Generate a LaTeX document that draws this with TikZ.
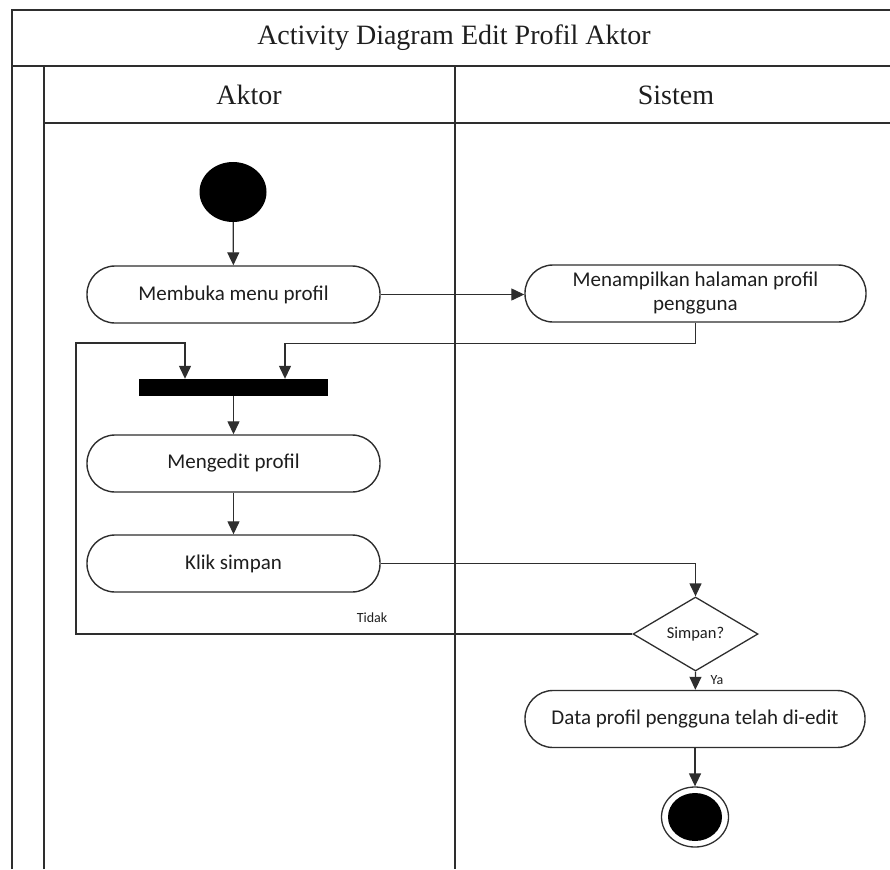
\documentclass[tikz,border=0pt]{standalone}
\usepackage{fontspec}
\setmainfont{Liberation Serif}
\newfontfamily\boxfont{Carlito}
\usetikzlibrary{calc, arrows.meta, shapes.geometric}
\definecolor{lineColor}{HTML}{2E2E2E}
\definecolor{textColor}{HTML}{1E1E1E}

\begin{document}
\begin{tikzpicture}[x=1pt, y=-1pt,
    lane/.style={draw=lineColor, line width=2pt},
    head/.style={text=textColor, font=\fontsize{28}{32}\selectfont},
    act/.style={draw=lineColor, line width=1.4pt, rounded corners=28pt, fill=white,
        minimum width=293pt, minimum height=57pt, align=center, text=textColor,
        font=\boxfont\fontsize{21}{24}\selectfont},
    flow/.style={draw=lineColor, line width=1.3pt, -{Triangle[length=13pt, width=12pt]}},
    note/.style={text=textColor, inner sep=0pt, font=\boxfont\fontsize{14}{16}\selectfont}]
    \useasboundingbox (0,0) rectangle (890,869);

    \draw[lane] (12,869) -- (12,10) -- (890,10);
    \draw[lane] (12,66) -- (890,66);
    \draw[lane] (44,869) -- (44,66);
    \draw[lane] (44,123) -- (890,123);
    \draw[lane] (455,66) -- (455,869);
    \node[head] (judul) at (454,38) {Activity Diagram Edit Profil Aktor};
    \node[head] (aktor) at (249,95) {Aktor};
    \node[head] (sistem) at (676,95) {Sistem};

    \node[ellipse, fill=black, minimum width=67pt, minimum height=60pt, inner sep=0pt] (mulai) at (233,192) {};
    \node[act] (buka) at (233.5,294.5) {Membuka menu profil};
    \node[act, minimum width=341pt] (tampil) at (695.5,293.5) {Menampilkan halaman profil\\pengguna};
    \node[fill=black, minimum width=189pt, minimum height=17pt, inner sep=0pt] (fork) at (233.5,387.5) {};
    \node[act] (edit) at (233.5,463.5) {Mengedit profil};
    \node[act] (simpan) at (233.5,563.5) {Klik simpan};
    \node[diamond, draw=lineColor, line width=1.3pt, minimum width=125pt, minimum height=74pt,
        inner sep=0pt, text=textColor, font=\boxfont\fontsize{16.5}{19}\selectfont] (cek) at (695.5,634) {Simpan?};
    \node[act, minimum width=340pt] (hasil) at (695,719) {Data profil pengguna telah di-edit};
    \node[ellipse, draw=lineColor, line width=1.3pt, minimum width=67pt, minimum height=60pt, inner sep=0pt] (selesai) at (695,817) {};
    \node[ellipse, fill=black, minimum width=54pt, minimum height=48pt, inner sep=0pt] (selesaiIsi) at (selesai) {};

    \coordinate (forkL) at ($(fork.north)+(-48.5,0)$);
    \coordinate (forkR) at ($(fork.north)+(51.5,0)$);
    \coordinate (balik) at (76,343);

    \draw[flow] (mulai) -- (buka);
    \draw[flow] (buka) -- (tampil.west |- buka);
    \draw[flow] (tampil.south) -- ++(0,21) -| (forkR);
    \draw[flow] (fork) -- (edit);
    \draw[flow] (edit) -- (simpan);
    \draw[flow] (simpan.east) -| (cek.north);
    \draw[flow] (cek.west) -| (balik) -| (forkL);
    \draw[flow] (cek.south) -- (hasil);
    \draw[flow] (hasil) -- (selesai);

    \node[note] (tidak) at (372,618) {Tidak};
    \node[note] (ya) at (717,680) {Ya};
\end{tikzpicture}
\end{document}
